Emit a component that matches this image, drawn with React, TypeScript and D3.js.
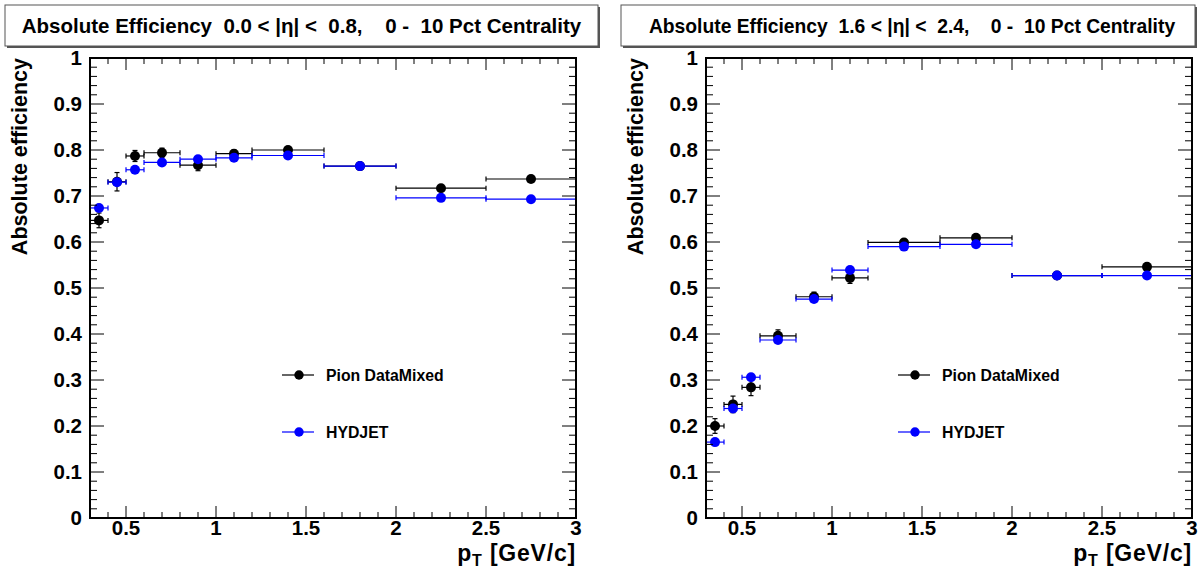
import React from "react";
import * as d3 from "d3";

const binLo = [0.3, 0.4, 0.5, 0.6, 0.8, 1.0, 1.2, 1.6, 2.0, 2.5];
const binHi = [0.4, 0.5, 0.6, 0.8, 1.0, 1.2, 1.6, 2.0, 2.5, 3.0];

// Left panel: 0.0 < |eta| < 0.8
const leftPion = [0.647, 0.731, 0.787, 0.794, 0.767, 0.792, 0.800, 0.765, 0.717, 0.737];
const leftPionErr = [0.016, 0.02, 0.012, 0.01, 0.012, 0.008, 0.005, 0.004, 0.004, 0.004];
const leftHyd = [0.674, 0.730, 0.757, 0.773, 0.780, 0.783, 0.788, 0.765, 0.696, 0.693];
const leftHydErr = [0.004, 0.004, 0.004, 0.003, 0.003, 0.003, 0.003, 0.003, 0.003, 0.003];

// Right panel: 1.6 < |eta| < 2.4
const rightPion = [0.200, 0.247, 0.284, 0.396, 0.481, 0.522, 0.599, 0.609, 0.527, 0.546];
const rightPionErr = [0.016, 0.018, 0.018, 0.013, 0.01, 0.012, 0.006, 0.005, 0.004, 0.004];
const rightHyd = [0.165, 0.238, 0.306, 0.387, 0.476, 0.539, 0.590, 0.595, 0.527, 0.527];
const rightHydErr = [0.004, 0.004, 0.004, 0.003, 0.003, 0.003, 0.003, 0.003, 0.003, 0.003];

const titles = [
  "Absolute Efficiency  0.0 < |\u03b7| <  0.8,    0 -  10 Pct Centrality",
  "Absolute Efficiency  1.6 < |\u03b7| <  2.4,    0 -  10 Pct Centrality",
];
const legendLabels = ["Pion DataMixed", "HYDJET"];
const xTickLabels = ["0.5", "1", "1.5", "2", "2.5", "3"];
const xMajor = [0.5, 1, 1.5, 2, 2.5, 3];
const yMajor = [0, 0.1, 0.2, 0.3, 0.4, 0.5, 0.6, 0.7, 0.8, 0.9, 1];
const yTickLabels = ["0", "0.1", "0.2", "0.3", "0.4", "0.5", "0.6", "0.7", "0.8", "0.9", "1"];

const FONT = "'Liberation Sans', Arial, Helvetica, sans-serif";
const BLUE = "#0000ff";

type Series = { vals: number[]; errs: number[]; color: string };

function Panel({
  dx,
  title,
  boxW,
  titleSize,
  titleCx,
  series,
}: {
  dx: number;
  title: string;
  boxW: number;
  titleSize: number;
  titleCx: number;
  series: Series[];
}) {
  const x = d3.scaleLinear().domain([0.3, 3]).range([90, 576]);
  const y = d3.scaleLinear().domain([0, 1]).range([518, 58]);
  const xMinor = d3.range(4, 30).map((v) => v / 10).filter((v) => Math.abs(v * 2 - Math.round(v * 2)) > 1e-6);
  const yMinor = d3.range(0, 51).map((v) => v / 50).filter((v) => Math.abs(v * 10 - Math.round(v * 10)) > 1e-6);
  const cap = 2.5;
  return (
    <g transform={`translate(${dx},0)`}>
      {/* title box */}
      <rect x={7} y={7} width={boxW} height={41} fill="#555" />
      <rect x={5} y={5} width={boxW} height={41} fill="#fff" stroke="#555" strokeWidth={1} />
      <text
        x={titleCx}
        y={32.5}
        textAnchor="middle"
        fontFamily={FONT}
        fontWeight="bold"
        fontSize={titleSize}
        style={{ whiteSpace: "pre" }}
      >
        {title}
      </text>

      {/* data */}
      {series.map((s, si) => (
        <g key={si} stroke={s.color} fill={s.color}>
          {s.vals.map((v, i) => {
            const cx = x((binLo[i] + binHi[i]) / 2);
            const cy = y(v);
            const x0 = x(binLo[i]);
            const x1 = x(binHi[i]);
            const y0 = y(v - s.errs[i]);
            const y1 = y(v + s.errs[i]);
            return (
              <g key={i}>
                <line x1={x0} x2={x1} y1={cy} y2={cy} strokeWidth={1.2} />
                <line x1={x0} x2={x0} y1={cy - cap} y2={cy + cap} strokeWidth={1.2} />
                <line x1={x1} x2={x1} y1={cy - cap} y2={cy + cap} strokeWidth={1.2} />
                <line x1={cx} x2={cx} y1={y0} y2={y1} strokeWidth={1.2} />
                <line x1={cx - cap} x2={cx + cap} y1={y0} y2={y0} strokeWidth={1.2} />
                <line x1={cx - cap} x2={cx + cap} y1={y1} y2={y1} strokeWidth={1.2} />
                <circle cx={cx} cy={cy} r={5} stroke="none" />
              </g>
            );
          })}
        </g>
      ))}

      {/* legend */}
      {series.map((s, si) => {
        const ly = 375 + si * 57;
        return (
          <g key={"lg" + si}>
            <line x1={282} x2={314} y1={ly} y2={ly} stroke={s.color} strokeWidth={1.2} />
            <circle cx={299} cy={ly} r={4.7} fill={s.color} />
            <text x={326} y={ly + 5.5} fontFamily={FONT} fontWeight="bold" fontSize={15.8}>
              {legendLabels[si]}
            </text>
          </g>
        );
      })}

      {/* ticks */}
      <g stroke="#000" strokeWidth={1}>
        {yMajor.map((v) => (
          <g key={"ym" + v}>
            <line x1={90} x2={104} y1={y(v)} y2={y(v)} />
            <line x1={576} x2={562} y1={y(v)} y2={y(v)} />
          </g>
        ))}
        {yMinor.map((v) => (
          <g key={"yn" + v}>
            <line x1={90} x2={97} y1={y(v)} y2={y(v)} />
            <line x1={576} x2={569} y1={y(v)} y2={y(v)} />
          </g>
        ))}
        {xMajor.map((v) => (
          <g key={"xm" + v}>
            <line x1={x(v)} x2={x(v)} y1={518} y2={506} />
            <line x1={x(v)} x2={x(v)} y1={58} y2={70} />
          </g>
        ))}
        {xMinor.map((v) => (
          <g key={"xn" + v}>
            <line x1={x(v)} x2={x(v)} y1={518} y2={512} />
            <line x1={x(v)} x2={x(v)} y1={58} y2={64} />
          </g>
        ))}
      </g>

      {/* frame */}
      <rect x={90} y={58} width={486} height={460} fill="none" stroke="#000" strokeWidth={2} />

      {/* tick labels */}
      {yMajor.map((v, i) => (
        <text key={"yl" + v} x={82} y={y(v) + 7} textAnchor="end" fontFamily={FONT} fontWeight="bold" fontSize={20.5}>
          {yTickLabels[i]}
        </text>
      ))}
      {xMajor.map((v, i) => (
        <text key={"xl" + v} x={x(v)} y={535} textAnchor="middle" fontFamily={FONT} fontWeight="bold" fontSize={20.5}>
          {xTickLabels[i]}
        </text>
      ))}

      {/* axis titles */}
      <text
        transform="translate(27,58) rotate(-90)"
        textAnchor="end"
        fontFamily={FONT}
        fontWeight="bold"
        fontSize={21.5}
      >
        Absolute efficiency
      </text>
      <text
        x={576}
        y={561}
        textAnchor="end"
        fontFamily={FONT}
        fontWeight="bold"
        fontSize={23}
        letterSpacing={0.8}
        style={{ whiteSpace: "pre" }}
      >
        <tspan>p</tspan>
        <tspan fontSize={16} dy={5}>T</tspan>
        <tspan dy={-5}> [GeV/c]</tspan>
      </text>
    </g>
  );
}

export default function App() {
  return (
    <svg width={1201} height={571} style={{ display: "block", position: "absolute", left: 0, top: 0, background: "#fff" }}>
      <rect width={1201} height={571} fill="#fff" />
      <Panel
        dx={0}
        title={titles[0]}
        boxW={593}
        titleSize={20.5}
        titleCx={301.5}
        series={[
          { vals: leftPion, errs: leftPionErr, color: "#000" },
          { vals: leftHyd, errs: leftHydErr, color: BLUE },
        ]}
      />
      <Panel
        dx={616}
        title={titles[1]}
        boxW={574}
        titleSize={19.3}
        titleCx={296}
        series={[
          { vals: rightPion, errs: rightPionErr, color: "#000" },
          { vals: rightHyd, errs: rightHydErr, color: BLUE },
        ]}
      />
    </svg>
  );
}
